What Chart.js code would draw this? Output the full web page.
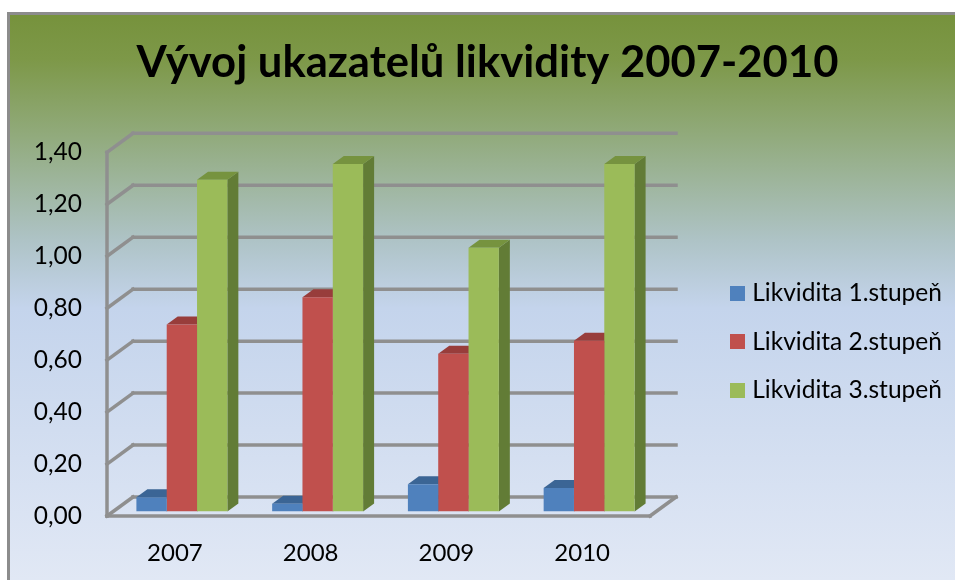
<!DOCTYPE html>
<html><head><meta charset="utf-8">
<style>html,body{margin:0;padding:0;background:#fff}#wrap{position:absolute;left:0;top:0;width:955px;height:580px}</style>
<script src="https://cdn.jsdelivr.net/npm/chart.js@4"></script>
</head><body><div id="wrap"><canvas id="c" width="955" height="580"></canvas></div>
<script>
const titleText = 'Vývoj ukazatelů likvidity 2007-2010';
const categories = ['2007', '2008', '2009', '2010'];
const seriesNames = ['Likvidita 1.stupeň', 'Likvidita 2.stupeň', 'Likvidita 3.stupeň'];
const likvidita1 = [0.055, 0.03, 0.105, 0.09];
const likvidita2 = [0.72, 0.825, 0.607, 0.657];
const likvidita3 = [1.277, 1.338, 1.015, 1.338];
const frontColors = ['#4f81bd', '#c0504d', '#9bbb59'];
const topColors = ['#3b6595', '#983d3b', '#76933f'];
const sideColors = ['#345880', '#843634', '#627c36'];
const FONT = 'Lato, Carlito, sans-serif';
const WALL = {dx: 26, dy: -19};
const BAR = {dx: 11, dy: -8, shiftX: 7, shiftY: -4.5};
const GRID = '#8f8f8f';

function swatch(color) {
  const s = document.createElement('canvas');
  s.width = 15; s.height = 15;
  const c = s.getContext('2d');
  c.fillStyle = color;
  c.fillRect(0, 0, 15, 15);
  return s;
}

const scene = {
  id: 'scene',
  beforeLayout(chart) {
    const lg = chart.legend;
    if (!Object.prototype.hasOwnProperty.call(lg, 'fit')) {
      const fit = lg.fit;
      lg.fit = function () { fit.call(this); this.width = 305; };
    }
  },
  afterLayout(chart) {
    chart.legend.left = 711;
    chart.legend.top = 257;
  },
  beforeDraw(chart) {
    const {ctx, width, height} = chart;
    ctx.save();
    ctx.fillStyle = '#ffffff';
    ctx.fillRect(0, 0, width, height);
    const g = ctx.createLinearGradient(0, 14, 0, height);
    g.addColorStop(0, '#76923c');
    g.addColorStop(0.08, '#7d9848');
    g.addColorStop(0.22, '#92ab7e');
    g.addColorStop(0.40, '#aec3c6');
    g.addColorStop(0.52, '#c4d4ec');
    g.addColorStop(1, '#e1e8f5');
    ctx.fillStyle = g;
    ctx.fillRect(7, 12, width - 7, height - 12);
    ctx.fillStyle = '#8c8c8c';
    ctx.fillRect(7, 12, width - 7, 3);
    ctx.fillRect(7, 12, 3, height - 12);
    ctx.restore();
  },
  beforeDatasetsDraw(chart) {
    const {ctx, scales: {y}, chartArea: a} = chart;
    ctx.save();
    ctx.strokeStyle = GRID;
    ctx.lineWidth = 3.5;
    ctx.lineCap = 'square';
    const line = (x0, y0, x1, y1) => { ctx.beginPath(); ctx.moveTo(x0, y0); ctx.lineTo(x1, y1); ctx.stroke(); };
    y.ticks.forEach(t => {
      const py = y.getPixelForValue(t.value);
      line(a.left + WALL.dx, py + WALL.dy, a.right + WALL.dx, py + WALL.dy);
      line(a.left, py, a.left + WALL.dx, py + WALL.dy);
    });
    line(a.left, a.top, a.left, a.bottom);
    line(a.left, a.bottom, a.right, a.bottom);
    line(a.right, a.bottom, a.right + WALL.dx, a.bottom + WALL.dy);
    ctx.restore();
    ctx.save();
    ctx.translate(BAR.shiftX, BAR.shiftY);
    // depth faces first, left to right; the library's front faces then cover them
    chart.data.datasets.forEach((d, i) => {
      chart.getDatasetMeta(i).data.forEach(b => {
        const p = b.getProps(['x', 'y', 'base', 'width'], true);
        const l = p.x - p.width / 2, r = p.x + p.width / 2, t = p.y, bt = p.base;
        ctx.fillStyle = sideColors[i];
        ctx.beginPath();
        ctx.moveTo(r, bt); ctx.lineTo(r + BAR.dx, bt + BAR.dy); ctx.lineTo(r + BAR.dx, t + BAR.dy); ctx.lineTo(r, t);
        ctx.closePath(); ctx.fill();
        ctx.fillStyle = topColors[i];
        ctx.beginPath();
        ctx.moveTo(l, t); ctx.lineTo(l + BAR.dx, t + BAR.dy); ctx.lineTo(r + BAR.dx, t + BAR.dy); ctx.lineTo(r, t);
        ctx.closePath(); ctx.fill();
      });
    });
  },
  afterDatasetsDraw(chart) {
    chart.ctx.restore();
  }
};

new Chart(document.getElementById('c'), {
  type: 'bar',
  data: {
    labels: categories,
    datasets: [
      {label: seriesNames[0], data: likvidita1, backgroundColor: frontColors[0]},
      {label: seriesNames[1], data: likvidita2, backgroundColor: frontColors[1]},
      {label: seriesNames[2], data: likvidita3, backgroundColor: frontColors[2]}
    ]
  },
  plugins: [scene],
  options: {
    responsive: false,
    animation: false,
    events: [],
    layout: {padding: {left: 20, right: 0, top: 0, bottom: 0}},
    datasets: {bar: {barPercentage: 1, categoryPercentage: 0.67}},
    scales: {
      x: {
        grid: {display: false, drawTicks: false},
        border: {display: false},
        ticks: {color: '#000', font: {family: FONT, size: 24}, padding: 23, maxRotation: 0},
        afterFit(s) { s.height = 64; }
      },
      y: {
        min: 0, max: 1.4,
        grid: {display: false, drawTicks: false},
        border: {display: false},
        ticks: {
          stepSize: 0.2, color: '#000', font: {family: FONT, size: 24.5}, padding: 25,
          callback: v => v.toFixed(2).replace('.', ',')
        },
        afterFit(s) { s.width = 87; }
      }
    },
    plugins: {
      title: {
        display: true, text: titleText, color: '#000',
        font: {family: FONT, size: 43.6, weight: 'bold', lineHeight: 1.2},
        padding: {top: 37, bottom: 63}
      },
      legend: {
        position: 'right', align: 'start',
        labels: {
          color: '#000', font: {family: FONT, size: 24.5},
          boxWidth: 15, boxHeight: 15, padding: 24,
          usePointStyle: true, pointStyleWidth: 5,
          generateLabels(chart) {
            return Chart.defaults.plugins.legend.labels.generateLabels(chart)
              .map((it, i) => Object.assign(it, {pointStyle: swatch(frontColors[i])}));
          }
        }
      },
      tooltip: {enabled: false}
    }
  }
});
</script></body></html>
